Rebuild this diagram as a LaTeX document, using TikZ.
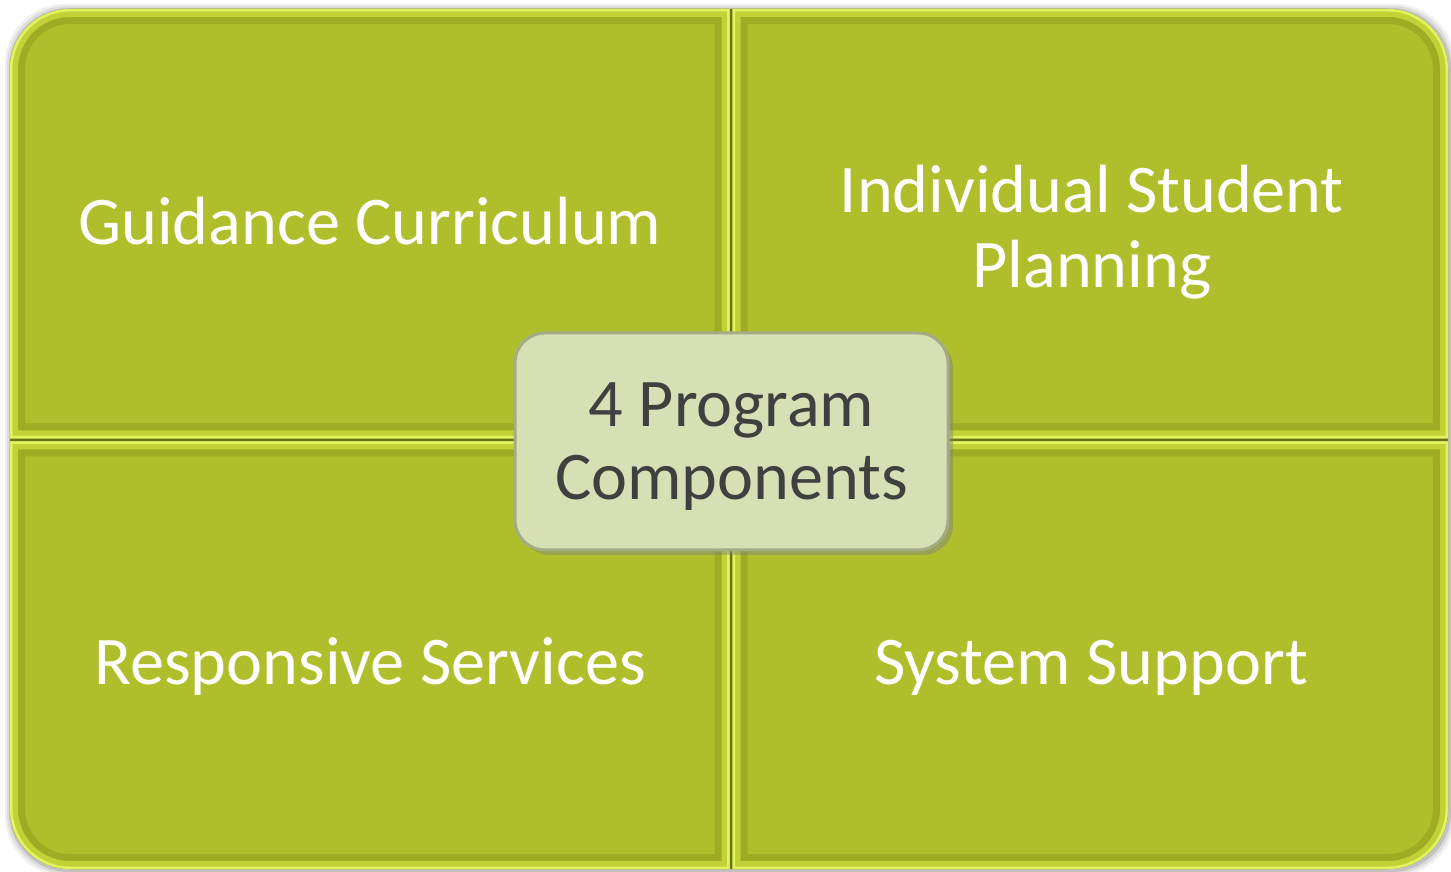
\documentclass[tikz,border=0pt]{standalone}
\usepackage{fontspec}
\setmainfont{Carlito}
\usepackage{xcolor}
\usepackage{tikz}
\usetikzlibrary{shadows}

\definecolor{quadgreen}{HTML}{AFBF2B}
\definecolor{rimdark}{HTML}{9DAC22}
\definecolor{rimmid}{HTML}{C2D236}
\definecolor{rimlight}{HTML}{E2F262}
\definecolor{divider}{HTML}{66741A}
\definecolor{hubfill}{HTML}{D7E0B4}
\definecolor{hubline}{HTML}{A3AC86}
\definecolor{hubtext}{HTML}{404040}

\begin{document}
\begin{tikzpicture}[x=0.1mm, y=-0.1mm,
        quad/.style={fill=quadgreen},
        quadtext/.style={text=white, font=\fontsize{19.4}{21.3}\selectfont, align=center},
        hub/.style={draw=hubline, line width=0.3mm, fill=hubfill, rounded corners=3mm,
            minimum width=43.3mm, minimum height=21.7mm, text=hubtext, align=center,
            font=\fontsize{19.4}{20.8}\selectfont, text depth=0pt,
            drop shadow={shadow xshift=0.5mm, shadow yshift=-0.5mm, opacity=0.45}}]
    \useasboundingbox (0,0) rectangle (1451,872);
    % soft shadow round the whole matrix
    \foreach \s/\o in {5/0.06, 3/0.08, 1/0.12}
        \fill[black, opacity=\o, rounded corners=6mm] (10-\s,9-\s) rectangle (1448+\s+2,869+\s+2);
    \fill[divider, rounded corners=6mm] (10,9) rectangle (1448,869);
    % the four quadrants, each with one round corner
    \def\qa{(10,438.5) -- (10,69) arc(180:270:60) -- (729.5,9) -- (729.5,438.5) -- cycle}
    \def\qb{(732.5,9) -- (1388,9) arc(270:360:60) -- (1448,438.5) -- (732.5,438.5) -- cycle}
    \def\qc{(10,441.5) -- (729.5,441.5) -- (729.5,869) -- (70,869) arc(90:180:60) -- cycle}
    \def\qd{(732.5,441.5) -- (1448,441.5) -- (1448,809) arc(0:90:60) -- (732.5,869) -- cycle}
    \foreach \q in {\qa, \qb, \qc, \qd} {
        \fill[quad] \q;
        \begin{scope}
            \clip \q;
            \draw[rimdark, line width=3mm] \q;
            \draw[rimmid, line width=1.6mm] \q;
            \draw[rimlight, line width=0.5mm] \q;
        \end{scope}
    }
    \node[quadtext] (gc) at (370,221) {Guidance Curriculum};
    \node[quadtext] (isp) at (1092,232) {Individual Student\\Planning};
    \node[quadtext, anchor=base] (rs) at (370,685) {Responsive Services};
    \node[quadtext, anchor=base] (ss) at (1091,685) {System Support};
    \node[hub] (prog) at (731.5,441.5) {4 Program\\Components};
\end{tikzpicture}
\end{document}
